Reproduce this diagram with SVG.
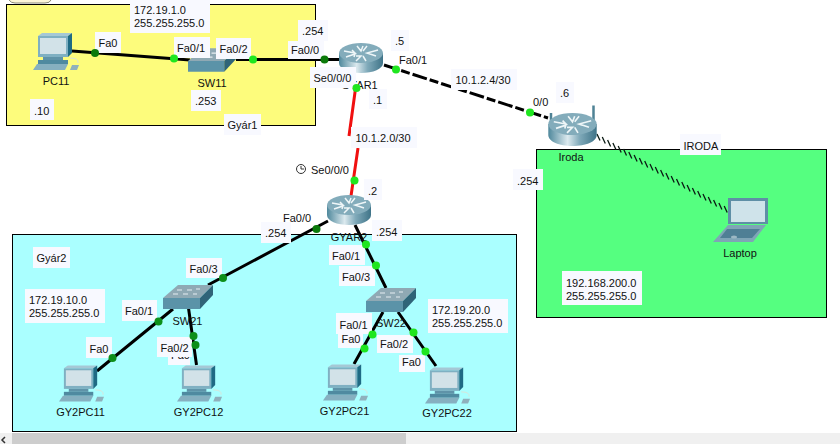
<svg xmlns="http://www.w3.org/2000/svg" width="840" height="444" viewBox="0 0 840 444">
<style>
text{font-family:"Liberation Sans",Arial,sans-serif;font-size:11px;fill:#111}
.m{text-anchor:middle}
.b{fill:#f8f9ff}
.area{stroke:#000;stroke-width:1}
.cable{fill:none;stroke:#000;stroke-width:3}
.red{fill:none;stroke:#f01010;stroke-width:3}
.l{fill:#1fe61f}
.d{fill:#0b7a0b}
.d2{fill:#0d8f1a}
</style>
<defs>
<linearGradient id="rg" x1="0" x2="1" y1="0" y2="0"><stop offset="0" stop-color="#4f889c"/><stop offset=".4" stop-color="#dbe9ee"/><stop offset=".65" stop-color="#7fa9b9"/><stop offset="1" stop-color="#3f7488"/></linearGradient>
<symbol id="router" viewBox="0 0 44 30">
<path d="M0 10V20C0 26 10 30 22 30S44 26 44 20V10Z" fill="url(#rg)"/>
<ellipse cx="22" cy="10" rx="22" ry="10" fill="#83acbb"/>
<path d="M5 8l11 2-3-3M7 14l9-3-1 3M39 7l-11 3 3 1M37 13l-9-3M17 18l5-5-5 0M27 18l-3-5M18 3l4 5 2-5M28 3l-4 5" stroke="#eef6f8" stroke-width="1.500" fill="none"/>
</symbol>
<symbol id="switch" viewBox="0 0 50 24">
<path d="M0 13L15 0H50L37 13Z" fill="#8fa9b4"/>
<path d="M0 13H37V24H0Z" fill="#5b93a8"/>
<path d="M37 13L50 0V10L37 24Z" fill="#2f6478"/>
<path d="M14 5h5M24 5h5M33 4h4M10 9h5M20 9h5M30 9h4" stroke="#e6eef1" stroke-width="1.200"/>
</symbol>
<symbol id="pc" viewBox="0 0 47 37">
<path d="M5 3L9 0H39L35 3Z" fill="#a5c8d5"/>
<path d="M5 3H35V24H5Z" fill="#7fb0c2"/>
<path d="M35 3L39 0V20L35 24Z" fill="#1f6a84"/>
<path d="M7 5H33V21H7Z" fill="#d2e2e8"/>
<path d="M10 24H30V27H10Z" fill="#5f93a8"/>
<path d="M5 27H35V31H5Z" fill="#4f8aa0"/>
<path d="M4 31H35L32 37H0Z" fill="#86b0c0"/>
<path d="M37 25q9 0 8 5" fill="none" stroke="#d8e4d8" stroke-width="1"/>
<path d="M39 32H46L44 37H37Z" fill="#8fb0bc"/>
</symbol>
<symbol id="laptop" viewBox="0 0 55 45">
<path d="M15 1H55V27H15Z" fill="#5f8fa6"/>
<path d="M18 4H52V25H18Z" fill="#cfe3ea"/>
<path d="M15 28H53L40 45H0Z" fill="#7fa5b6"/>
<path d="M14 32H47L39 41H7Z" fill="#4f7f95"/>
<ellipse cx="21" cy="40" rx="3" ry="1.600" fill="#9cb8c4"/>
</symbol>
</defs>
<rect width="840" height="444" fill="#fff"/>
<path d="M9 0q2 3 6 3H45q5 0 6-3" fill="#fdf6d8" stroke="#8a8a7a"/>
<g id="areas">
<rect class="area" x="6.500" y="4.500" width="309" height="121" fill="#fdfc7c"/>
<rect class="area" x="536.500" y="149.500" width="290" height="168" fill="#55ff80"/>
<rect class="area" x="12.500" y="234.500" width="504" height="197" fill="#aaffff"/>
</g>
<g id="connectors">
<path class="cable" d="M72 51L190 60M236 59.500H340"/>
<path class="red" d="M356 85L349 136M358 148L351 196"/>
<path class="cable" stroke-dasharray="15 3 9 3" d="M384 65L548 118"/>
<path d="M597 134l3 6.500m2.300-3.500l3 6.500m2.300-3.500l3 6.500m2.300-3.500l3 6.500m2.300-3.500l3 6.500m2.300-3.500l3 6.500m2.300-3.500l3 6.500m2.300-3.500l3 6.500m2.300-3.500l3 6.500m2.300-3.500l3 6.500m2.300-3.500l3 6.500m2.300-3.500l3 6.500m2.300-3.500l3 6.500m2.300-3.500l3 6.500m2.300-3.500l3 6.500m2.300-3.500l3 6.500m2.300-3.500l3 6.500m2.300-3.500l3 6.500m2.300-3.500l3 6.500m2.300-3.500l3 6.500m2.300-3.500l3 6.500m2.300-3.500l3 6.500m2.300-3.500l3 6.500m2.300-3.500l3 6.500m2.300-3.500l3 6.500" fill="none" stroke="#0a1a12" stroke-width="1.300"/>
<path class="cable" d="M328 221L208 285M173 309L97 371M188.500 308L196.500 365M355 225L386 288M383 312L354 364M398 312L436 366"/>
</g>
<g id="PC11"><use href="#pc" x="33" y="33" width="47" height="37"/><text class="m" x="56" y="85">PC11</text></g>
<g id="SW11"><use href="#switch" x="188" y="48" width="49" height="24"/><text class="m" x="212" y="87">SW11</text></g>
<g id="GYAR1"><use href="#router" x="339" y="43" width="44" height="30"/><text class="m" x="359.500" y="89">GYAR1</text></g>
<g id="Iroda"><path d="M551 126V113M593.500 126V105.500" stroke="#4f8295" stroke-width="2.500"/><use href="#router" x="548" y="113" width="49" height="33"/><text class="m" x="571" y="161">Iroda</text></g>
<g id="Laptop"><use href="#laptop" x="713" y="197" width="55" height="45"/><text class="m" x="740" y="257">Laptop</text></g>
<g id="GYAR2"><use href="#router" x="327" y="195" width="44" height="30"/><text class="m" x="349" y="241">GYAR2</text></g>
<g id="SW21"><use href="#switch" x="163" y="285" width="50" height="24"/><text class="m" x="187.500" y="325">SW21</text></g>
<g id="SW22"><use href="#switch" x="366" y="288" width="50" height="24"/><text class="m" x="391" y="327">SW22</text></g>
<g id="GY2PC11"><use href="#pc" x="59" y="365" width="46" height="37"/><text class="m" x="80.500" y="416">GY2PC11</text></g>
<g id="GY2PC12"><use href="#pc" x="177" y="365" width="46" height="37"/><text class="m" x="198.500" y="416">GY2PC12</text></g>
<g id="GY2PC21"><use href="#pc" x="323" y="364" width="46" height="37"/><text class="m" x="344.500" y="415">GY2PC21</text></g>
<g id="GY2PC22"><use href="#pc" x="425" y="367" width="46" height="37"/><text class="m" x="447" y="417">GY2PC22</text></g>
<g id="labels">
<rect class="b" x="130" y="0" width="80" height="33"/><text x="134" y="14">172.19.1.0</text><text x="134" y="27">255.255.255.0</text>
<rect class="b" x="95" y="32" width="26" height="21"/><text x="98.500" y="47">Fa0</text>
<rect class="b" x="174" y="37" width="36" height="21"/><text x="177" y="52">Fa0/1</text>
<rect class="b" x="216" y="38" width="35" height="21"/><text x="219.500" y="53">Fa0/2</text>
<rect class="b" x="191" y="90" width="30" height="21"/><text x="195" y="105">.253</text>
<rect class="b" x="30" y="99" width="24" height="21"/><text x="34" y="115">.10</text>
<rect class="b" x="224" y="114" width="37" height="21"/><text x="227.500" y="129">Gyár1</text>
<rect class="b" x="298" y="20" width="30" height="21"/><text x="302" y="35">.254</text>
<rect class="b" x="288" y="41" width="36" height="18"/><text x="291" y="54">Fa0/0</text>
<rect class="b" x="391" y="30" width="18" height="21"/><text x="395" y="45">.5</text>
<text x="399" y="64">Fa0/1</text>
<rect class="b" x="310" y="67" width="46" height="21"/><text x="313.500" y="82">Se0/0/0</text>
<rect class="b" x="369" y="89" width="18" height="20"/><text x="373" y="104">.1</text>
<rect class="b" x="351" y="127" width="66" height="21"/><text x="355.500" y="142">10.1.2.0/30</text>
<text x="311" y="174">Se0/0/0</text>
<rect class="b" x="364" y="179" width="18" height="21"/><text x="368" y="195">.2</text>
<rect class="b" x="451" y="69" width="66" height="21"/><text x="455.500" y="84">10.1.2.4/30</text>
<text x="533" y="106">0/0</text>
<rect class="b" x="556" y="82" width="18" height="21"/><text x="560" y="97">.6</text>
<rect class="b" x="680" y="134" width="41" height="21"/><text x="683.500" y="150">IRODA</text>
<rect class="b" x="513" y="169" width="30" height="21"/><text x="517" y="185">.254</text>
<rect class="b" x="562" y="271" width="80" height="34"/><text x="566" y="287">192.168.200.0</text><text x="566" y="300">255.255.255.0</text>
<rect class="b" x="33" y="247" width="37" height="21"/><text x="36.500" y="262">Gyár2</text>
<rect class="b" x="25" y="289" width="80" height="34"/><text x="29" y="304">172.19.10.0</text><text x="29" y="317">255.255.255.0</text>
<rect class="b" x="186" y="258" width="36" height="20"/><text x="189.500" y="273">Fa0/3</text>
<rect class="b" x="122" y="300" width="35" height="21"/><text x="125" y="315">Fa0/1</text>
<rect class="b" x="86" y="337" width="26" height="21"/><text x="89.500" y="353">Fa0</text>
<rect class="b" x="168" y="350" width="22" height="15"/><text x="171" y="359">Fa0</text>
<rect class="b" x="157" y="337" width="35" height="20"/><text x="160.500" y="352">Fa0/2</text>
<text x="283" y="222">Fa0/0</text>
<rect class="b" x="261" y="222" width="30" height="21"/><text x="265" y="237">.254</text>
<rect class="b" x="372" y="220" width="30" height="21"/><text x="376" y="236">.254</text>
<rect class="b" x="329" y="245" width="36" height="20"/><text x="332" y="260">Fa0/1</text>
<rect class="b" x="339" y="266" width="36" height="20"/><text x="342" y="281">Fa0/3</text>
<rect class="b" x="338" y="333" width="25" height="15"/><text x="341.500" y="343">Fa0</text>
<rect class="b" x="336" y="313" width="36" height="21"/><text x="339.500" y="329">Fa0/1</text>
<rect class="b" x="377" y="335" width="36" height="18"/><text x="380" y="348">Fa0/2</text>
<rect class="b" x="399" y="355" width="26" height="17"/><text x="402" y="366">Fa0</text>
<rect class="b" x="428" y="299" width="80" height="34"/><text x="432" y="314">172.19.20.0</text><text x="432" y="327">255.255.255.0</text>
</g>
<g id="clock" fill="none" stroke="#333"><circle cx="301" cy="169" r="4.500"/><path d="M301 166v3h3"/></g>
<g id="ports">
<circle class="d" cx="95" cy="53" r="4"/><circle class="l" cx="174" cy="58.500" r="4"/><circle class="l" cx="253" cy="59.500" r="4"/><circle class="d" cx="324.500" cy="59.500" r="4"/>
<circle class="l" cx="356.500" cy="88" r="4"/><circle class="l" cx="396" cy="69.500" r="4"/><circle class="l" cx="530" cy="112.500" r="4"/><circle class="l" cx="354.500" cy="180.500" r="4"/>
<circle class="d" cx="316.500" cy="229" r="4"/><circle class="d2" cx="223" cy="278" r="4"/><circle class="d2" cx="158.500" cy="321.500" r="4"/><circle class="d2" cx="112.500" cy="358" r="4"/><circle class="d2" cx="193.500" cy="336" r="4"/><circle class="d2" cx="195.500" cy="345" r="4"/>
<circle class="l" cx="366" cy="244.500" r="4"/><circle class="l" cx="376" cy="265.500" r="4"/><circle class="l" cx="372.500" cy="334.500" r="4"/><circle class="l" cx="364.500" cy="348.500" r="4"/><circle class="l" cx="413.500" cy="332.500" r="4"/><circle class="l" cx="425.500" cy="351.500" r="4"/>
</g>
<g id="scrollbar">
<rect x="0" y="433" width="840" height="11" fill="#f0f0f0"/>
<rect x="12" y="433" width="394" height="11" fill="#cdcdcd"/>
<path d="M5 437l-3 3 3 3" fill="none" stroke="#333" stroke-width="1.500"/>
</g>
</svg>
